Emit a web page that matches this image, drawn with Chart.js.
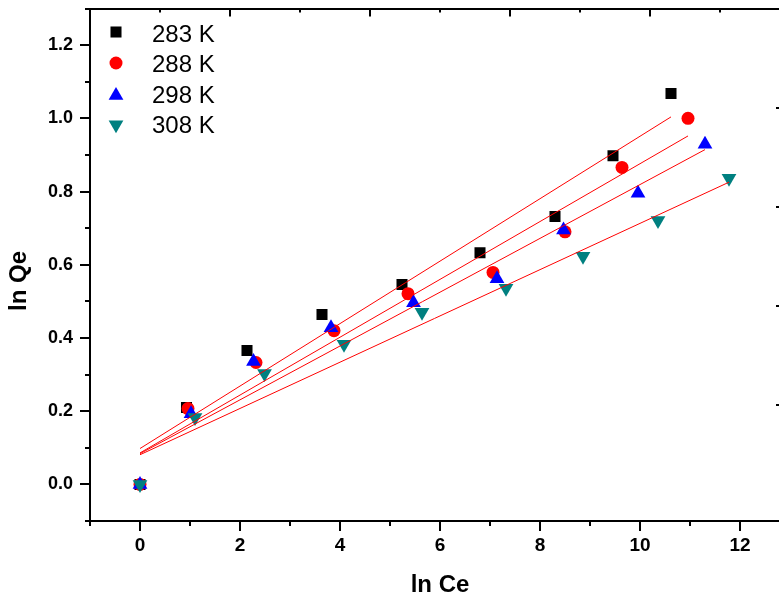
<!DOCTYPE html>
<html>
<head>
<meta charset="utf-8">
<title>ln Qe vs ln Ce</title>
<script src="https://cdn.jsdelivr.net/npm/chart.js@4/dist/chart.umd.min.js"></script>
<style>
  html, body { margin: 0; padding: 0; background: #ffffff; overflow: hidden; }
  canvas { display: block; }
</style>
</head>
<body>
<canvas id="c" width="800" height="601"></canvas>
<script>
// ---- data ----
const seriesNames = ['283 K', '288 K', '298 K', '308 K'];

const lnCe283 = [0, 0.93, 2.14, 3.64, 5.24, 6.80, 8.30, 9.46, 10.62];
const lnQe283 = [0, 0.210, 0.366, 0.464, 0.546, 0.633, 0.732, 0.898, 1.068];

const lnCe288 = [0, 0.96, 2.32, 3.88, 5.36, 7.06, 8.50, 9.64, 10.96];
const lnQe288 = [0, 0.207, 0.333, 0.420, 0.521, 0.579, 0.690, 0.866, 1.000];

const lnCe298 = [0, 1.02, 2.27, 3.82, 5.47, 7.14, 8.47, 9.96, 11.30];
const lnQe298 = [0, 0.193, 0.336, 0.428, 0.496, 0.562, 0.695, 0.795, 0.929];

const lnCe308 = [0, 1.10, 2.49, 4.08, 5.64, 7.32, 8.86, 10.36, 11.78];
const lnQe308 = [0, 0.183, 0.303, 0.383, 0.470, 0.536, 0.623, 0.721, 0.836];

// linear fits ln Qe = a + b * ln Ce
const fitIntercepts = [0.098, 0.086, 0.084, 0.081];
const fitSlopes = [0.0853, 0.0790, 0.0735, 0.0632];

const xTickValues = [0, 2, 4, 6, 8, 10, 12];
const yTickValues = [0.0, 0.2, 0.4, 0.6, 0.8, 1.0, 1.2];

// ---- appearance ----
const FONT = '"Liberation Sans", Arial, Helvetica, sans-serif';
const colors = ['#000000', '#ff0000', '#0000ff', '#008080'];
const markerStyles = ['rect', 'circle', 'triangle', 'triangle'];
const markerRotation = [0, 0, 0, 180];
const markerRadius = [7.8, 6.5, 8.5, 8.5];

const pointSets = [
  [lnCe283, lnQe283],
  [lnCe288, lnQe288],
  [lnCe298, lnQe298],
  [lnCe308, lnQe308]
];

const datasets = [];
pointSets.forEach(([xs, ys], i) => {
  datasets.push({
    label: seriesNames[i],
    data: xs.map((x, j) => ({ x: x, y: ys[j] })),
    showLine: false,
    pointStyle: markerStyles[i],
    pointRotation: markerRotation[i],
    pointRadius: markerRadius[i],
    pointHoverRadius: markerRadius[i],
    pointBackgroundColor: colors[i],
    pointBorderColor: colors[i],
    pointBorderWidth: 0,
    order: 4 - i
  });
});
pointSets.forEach(([xs], i) => {
  const x0 = xs[0];
  const x1 = xs[xs.length - 1];
  datasets.push({
    label: 'fit ' + seriesNames[i],
    data: [
      { x: x0, y: fitIntercepts[i] + fitSlopes[i] * x0 },
      { x: x1, y: fitIntercepts[i] + fitSlopes[i] * x1 }
    ],
    showLine: true,
    borderColor: '#ff0000',
    borderWidth: 1,
    pointRadius: 0,
    pointHoverRadius: 0,
    fill: false,
    order: 0
  });
});

// minor / major tick marks, axis titles and the in-plot legend
const decorations = {
  id: 'decorations',
  afterDraw(chart) {
    const { ctx, chartArea: a } = chart;
    const { x, y, x2, y2 } = chart.scales;
    ctx.save();
    ctx.strokeStyle = '#000';
    ctx.lineWidth = 2;
    ctx.beginPath();
    // bottom axis: major every 2, minor every 1, pointing outward
    for (let k = -1; k <= 12; k++) {
      const px = Math.round(x.getPixelForValue(k));
      const len = (k % 2 === 0) ? 10 : 5;
      ctx.moveTo(px, a.bottom);
      ctx.lineTo(px, a.bottom + len);
    }
    // left axis: major every 0.2, minor every 0.1, pointing outward
    for (let k = -1; k <= 13; k++) {
      const py = Math.round(y.getPixelForValue(k / 10));
      const len = (k % 2 === 0) ? 10 : 5;
      ctx.moveTo(a.left, py);
      ctx.lineTo(a.left - len, py);
    }
    // top axis, pointing inward
    for (let k = 1; k <= 9; k++) {
      const px = Math.round(x2.getPixelForValue(k));
      const len = (k % 2 === 0) ? 8 : 4;
      ctx.moveTo(px, a.top);
      ctx.lineTo(px, a.top + len);
    }
    // right axis, pointing inward
    for (let k = 0; k <= 3; k++) {
      const py = Math.round(y2.getPixelForValue(k));
      ctx.moveTo(a.right, py);
      ctx.lineTo(a.right - 5, py);
    }
    ctx.stroke();

    // axis titles
    ctx.fillStyle = '#000';
    ctx.font = 'bold 24px ' + FONT;
    ctx.textAlign = 'center';
    ctx.textBaseline = 'middle';
    ctx.fillText('ln Ce', 440, 585);
    ctx.save();
    ctx.translate(19, 281);
    ctx.rotate(-Math.PI / 2);
    ctx.fillText('ln Qe', 0, 0);
    ctx.restore();

    // legend
    const lx = 116, tx = 152;
    const rows = [32, 63, 95.5, 124.7];
    const baselines = [41.5, 72, 102.5, 133];
    ctx.font = '24px ' + FONT;
    ctx.textAlign = 'left';
    ctx.textBaseline = 'alphabetic';
    seriesNames.forEach((name, i) => {
      ctx.fillStyle = colors[i];
      Chart.helpers.drawPoint(ctx, {
        pointStyle: markerStyles[i],
        rotation: markerRotation[i],
        radius: markerRadius[i],
        borderWidth: 0
      }, lx, rows[i]);
      ctx.fillStyle = '#000';
      ctx.fillText(name, tx, baselines[i]);
    });
    ctx.restore();
  }
};

const axisBorder = { display: true, color: '#000', width: 2 };
const noGrid = { display: false, drawTicks: false };
const zeroPad = (s) => { s.paddingLeft = 0; s.paddingRight = 0; s.paddingTop = 0; s.paddingBottom = 0; };

new Chart(document.getElementById('c'), {
  type: 'scatter',
  data: { datasets: datasets },
  options: {
    responsive: false,
    animation: false,
    events: [],
    layout: { padding: 0 },
    plugins: { legend: { display: false }, tooltip: { enabled: false } },
    scales: {
      x: {
        type: 'linear', position: 'bottom', min: -1, max: 12.82,
        grid: noGrid, border: axisBorder,
        ticks: { color: '#000', padding: 13, font: { family: FONT, size: 19, weight: 'bold' } },
        afterBuildTicks: (s) => { s.ticks = xTickValues.map(v => ({ value: v })); },
        afterFit: (s) => { s.height = 80; zeroPad(s); }
      },
      y: {
        type: 'linear', position: 'left', min: -0.1, max: 1.3,
        grid: noGrid, border: axisBorder,
        ticks: {
          color: '#000', padding: 17, font: { family: FONT, size: 18, weight: 'bold' },
          callback: (v) => Number(v).toFixed(1)
        },
        afterBuildTicks: (s) => { s.ticks = yTickValues.map(v => ({ value: v })); },
        afterFit: (s) => { s.width = 90; zeroPad(s); }
      },
      x2: {
        type: 'linear', position: 'top', min: 0, max: 691 / 70,
        grid: noGrid, border: axisBorder, ticks: { display: false },
        afterFit: (s) => { s.height = 8; zeroPad(s); }
      },
      y2: {
        type: 'linear', position: 'right', min: -1.168, max: -1.168 + 513 / 99.3,
        grid: noGrid, border: axisBorder, ticks: { display: false },
        afterFit: (s) => { s.width = 19; zeroPad(s); }
      }
    }
  },
  plugins: [decorations]
});
</script>
</body>
</html>
